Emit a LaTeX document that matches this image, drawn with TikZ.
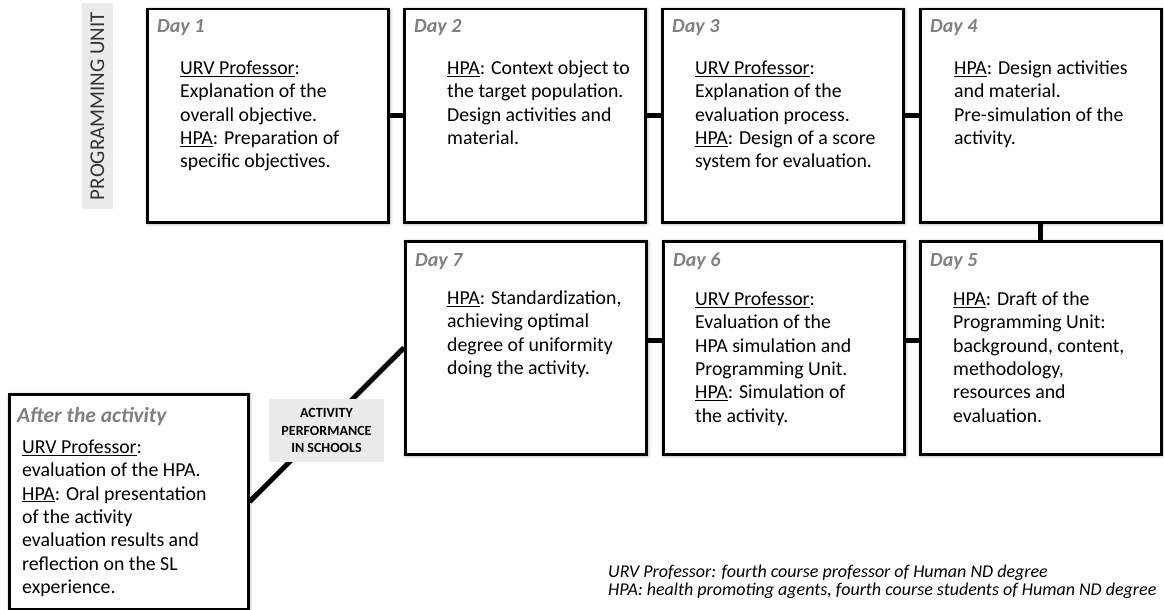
\documentclass[tikz,border=0pt]{standalone}
\usepackage{fontspec}
\setmainfont{Carlito}
\usetikzlibrary{calc,shadows.blur}
\pgfdeclarelayer{bg}
\pgfsetlayers{bg,main}
\begin{document}
\begin{tikzpicture}[x=1pt,y=-1pt,
  daybox/.style={draw=black, line width=2.5pt, fill=white, minimum width=241pt, minimum height=213pt, inner sep=0pt, anchor=north west,
    blur shadow={shadow xshift=1pt, shadow yshift=-1pt, shadow blur radius=4pt, shadow opacity=45}},
  daytitle/.style={anchor=base west, inner sep=0pt, text=black!50, font=\fontsize{20}{24}\selectfont\bfseries\itshape},
  body/.style={anchor=north west, inner sep=0pt, align=left, font=\fontsize{19.8}{23.3}\selectfont},
  conn/.style={line width=5pt, black},
  graylab/.style={fill=black!8, inner sep=0pt, align=center},
]
\useasboundingbox (0,0) rectangle (1164,610);

% boxes
\node[daybox] (d1) at (146,8) {};
\node[daybox] (d2) at (403,8) {};
\node[daybox] (d3) at (661,8) {};
\node[daybox] (d4) at (919,8) {};
\node[daybox] (d7) at (404,240) {};
\node[daybox] (d6) at (662,240) {};
\node[daybox] (d5) at (919,240) {};
\node[daybox, minimum width=239pt, minimum height=215pt] (after) at (8,393) {};

% connectors
\begin{pgfonlayer}{bg}
\draw[conn] (d1.east) -- (d2.west);
\draw[conn] (d2.east) -- (d3.west);
\draw[conn] (d3.east) -- (d4.west);
\draw[conn] (d4.south) -- (d5.north);
\draw[conn] ([yshift=7.5pt]d5.west) -- ([yshift=7.5pt]d6.east);
\draw[conn] ([yshift=7.5pt]d6.west) -- ([yshift=7.5pt]d7.east);
\draw[conn] (after.east) -- (d7.west);
\end{pgfonlayer}

% titles
\node[daytitle] (t1) at ($(d1.north west)+(11,25)$) {Day 1};
\node[daytitle] (t2) at ($(d2.north west)+(11,25)$) {Day 2};
\node[daytitle] (t3) at ($(d3.north west)+(11,25)$) {Day 3};
\node[daytitle] (t4) at ($(d4.north west)+(11,25)$) {Day 4};
\node[daytitle] (t7) at ($(d7.north west)+(11,26)$) {Day 7};
\node[daytitle] (t6) at ($(d6.north west)+(11,26)$) {Day 6};
\node[daytitle] (t5) at ($(d5.north west)+(11,26)$) {Day 5};
\node[daytitle, font=\fontsize{21.5}{24}\selectfont\bfseries\itshape] (ta) at ($(after.north west)+(9,29)$) {After the activity};

% bodies
\node[body] (b1) at ($(d1.north west)+(34,50)$) {\strut\underline{URV Professor}:\\Explanation of the\\overall objective.\\\underline{HPA}: Preparation of\\specific objectives.};
\node[body] (b2) at ($(d2.north west)+(44,50)$) {\strut\underline{HPA}: Context object to\\the target population.\\Design activities and\\material.};
\node[body] (b3) at ($(d3.north west)+(34,50)$) {\strut\underline{URV Professor}:\\Explanation of the\\evaluation process.\\\underline{HPA}: Design of a score\\system for evaluation.};
\node[body] (b4) at ($(d4.north west)+(35,50)$) {\strut\underline{HPA}: Design activities\\and material.\\Pre-simulation of the\\activity.};
\node[body] (b7) at ($(d7.north west)+(43,48)$) {\strut\underline{HPA}: Standardization,\\achieving optimal\\degree of uniformity\\doing the activity.};
\node[body] (b6) at ($(d6.north west)+(33,49)$) {\strut\underline{URV Professor}:\\Evaluation of the\\HPA simulation and\\Programming Unit.\\\underline{HPA}: Simulation of\\the activity.};
\node[body] (b5) at ($(d5.north west)+(34,49)$) {\strut\underline{HPA}: Draft of the\\Programming Unit:\\background, content,\\methodology,\\resources and\\evaluation.};
\node[body] (ba) at ($(after.north west)+(14,44)$) {\strut\underline{URV Professor}:\\evaluation of the HPA.\\\underline{HPA}: Oral presentation\\of the activity\\evaluation results and\\reflection on the SL\\experience.};

% labels
\node[graylab, minimum width=115pt, minimum height=63pt, font=\fontsize{14}{17.5}\selectfont\bfseries] (act) at (326.5,430.5) {ACTIVITY\\PERFORMANCE\\IN SCHOOLS};
\node[graylab, rotate=90, minimum width=206pt, minimum height=31pt, text=black!80, font=\fontsize{21}{24}\selectfont] (pu) at (97.5,106) {PROGRAMMING UNIT};

% footnote
\node[anchor=north west, inner sep=0pt, align=left, font=\fontsize{18}{18.5}\selectfont\itshape] (fn) at (608,564) {\strut URV Professor: fourth course professor of Human ND degree\\HPA: health promoting agents, fourth course students of Human ND degree};
\end{tikzpicture}
\end{document}
